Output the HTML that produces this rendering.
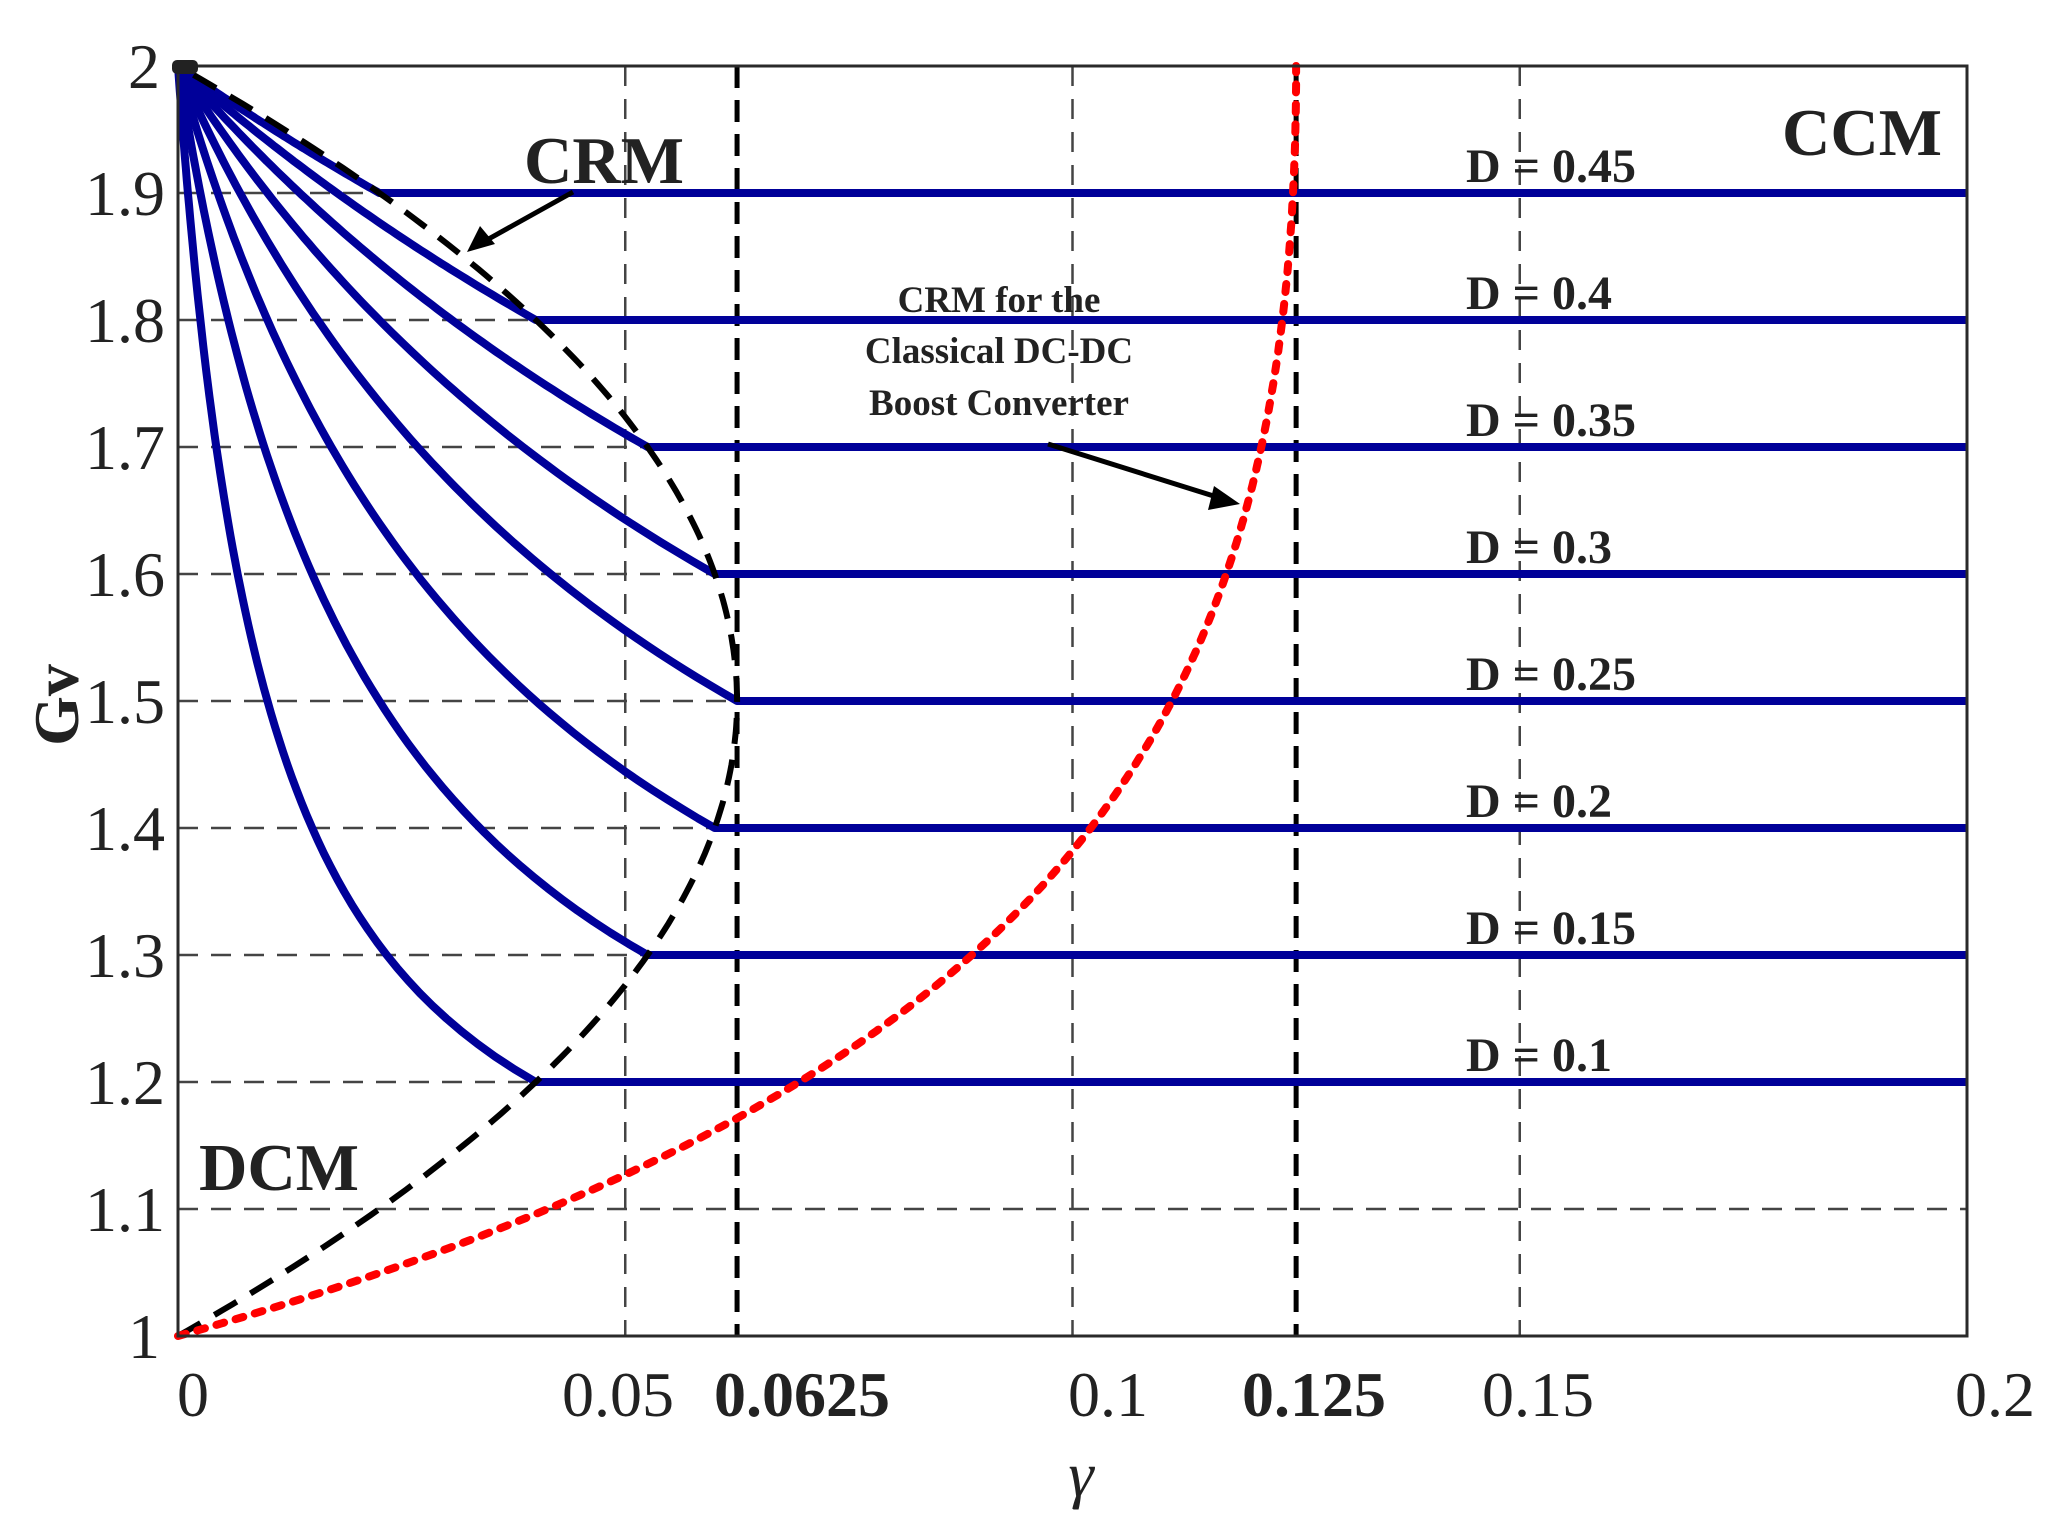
<!DOCTYPE html>
<html><head><meta charset="utf-8"><style>
body{margin:0;background:#fff}
svg text{font-family:"Liberation Serif",serif;fill:#222}
</style></head><body>
<svg id="s" width="2064" height="1511" viewBox="0 0 2064 1511" xmlns="http://www.w3.org/2000/svg">
<rect width="2064" height="1511" fill="#fff"/>
<g id="grid" stroke="#444" stroke-width="2.5" stroke-dasharray="20,13" fill="none"></g>
<g id="curves" fill="none"></g>
<rect x="178" y="66" width="1789" height="1270" fill="none" stroke="#2a2a2a" stroke-width="3"/>
<rect x="172" y="60" width="26" height="14" rx="5" fill="#222"/>
<g font-size="64" text-anchor="end">
<text x="160" y="88">2</text><text x="165" y="215">1.9</text><text x="165" y="342">1.8</text>
<text x="165" y="469">1.7</text><text x="165" y="596">1.6</text><text x="165" y="723">1.5</text>
<text x="165" y="850">1.4</text><text x="165" y="977">1.3</text><text x="165" y="1104">1.2</text>
<text x="165" y="1231">1.1</text><text x="160" y="1358">1</text>
</g>
<g font-size="64" text-anchor="middle">
<text x="193" y="1416">0</text><text x="618" y="1416">0.05</text>
<text x="802" y="1416" font-weight="bold">0.0625</text>
<text x="1108" y="1416">0.1</text>
<text x="1314" y="1416" font-weight="bold">0.125</text>
<text x="1538" y="1416">0.15</text><text x="1995" y="1416">0.2</text>
<text x="1081" y="1496" font-style="italic">γ</text>
</g>
<text transform="translate(78,705) rotate(-90)" font-size="64" font-weight="bold" text-anchor="middle">Gv</text>
<g font-size="48" font-weight="bold" fill="#000">
<text x="1466" y="182">D = 0.45</text><text x="1466" y="309">D = 0.4</text>
<text x="1466" y="436">D = 0.35</text><text x="1466" y="563">D = 0.3</text>
<text x="1466" y="690">D = 0.25</text><text x="1466" y="817">D = 0.2</text>
<text x="1466" y="944">D = 0.15</text><text x="1466" y="1071">D = 0.1</text>
</g>
<g font-size="67" font-weight="bold">
<text x="524" y="183">CRM</text><text x="1782" y="155">CCM</text><text x="199" y="1190">DCM</text>
</g>
<g font-size="37" font-weight="bold" text-anchor="middle">
<text x="999" y="312">CRM for the</text><text x="999" y="363">Classical DC-DC</text><text x="999" y="415">Boost Converter</text>
</g>
<g stroke="#000" stroke-width="5">
<line x1="573" y1="192" x2="485" y2="241"/><line x1="1048" y1="444" x2="1220" y2="498"/>
</g>
<polygon points="467,252 480,226 495,244" fill="#000"/>
<polygon points="1240,504 1214,486 1208,510" fill="#000"/>
</svg>
<script>
var X=g=>178+g*8945, Y=G=>1336-(G-1)*1270, NS="http://www.w3.org/2000/svg";
function add(par,d,attrs){var p=document.createElementNS(NS,"path");p.setAttribute("d",d);for(var k in attrs)p.setAttribute(k,attrs[k]);document.getElementById(par).appendChild(p);}
var gd="";
[0.05,0.1,0.15].forEach(g=>gd+="M"+X(g)+",66V1336");
for(var i=1;i<10;i++)gd+="M178,"+Y(1+i/10)+"H1967";
add("grid",gd,{});
add("curves","M"+X(0.0625)+",66V1336M"+X(0.125)+",66V1336",{stroke:"#000","stroke-width":5,"stroke-dasharray":"22,12"});
for(var D=0.1;D<0.46;D+=0.05){
 var Gc=1+2*D,d="M178,66";
 for(var j=1;j<=80;j++){var G=2-(2-Gc)*j/80;var g=D*D*(2-G)/(G-1);d+="L"+X(g).toFixed(1)+","+Y(G).toFixed(1);}
 d+="H1967";
 add("curves",d,{stroke:"#000099","stroke-width":8,"stroke-linejoin":"round"});
}
var d="";for(var j=0;j<=200;j++){var G=1+j/200;var g=(G-1)*(2-G)/4;d+=(j?"L":"M")+X(g).toFixed(1)+","+Y(G).toFixed(1);}
add("curves",d,{stroke:"#000","stroke-width":6,"stroke-dasharray":"26,16"});
d="";for(var j=0;j<=200;j++){var G=1+j/200;var g=(G-1)/(2*G*G);d+=(j?"L":"M")+X(g).toFixed(1)+","+Y(G).toFixed(1);}
add("curves",d,{stroke:"#ff0000","stroke-width":8,"stroke-dasharray":"8,12","stroke-linecap":"round"});
</script>
</body></html>
